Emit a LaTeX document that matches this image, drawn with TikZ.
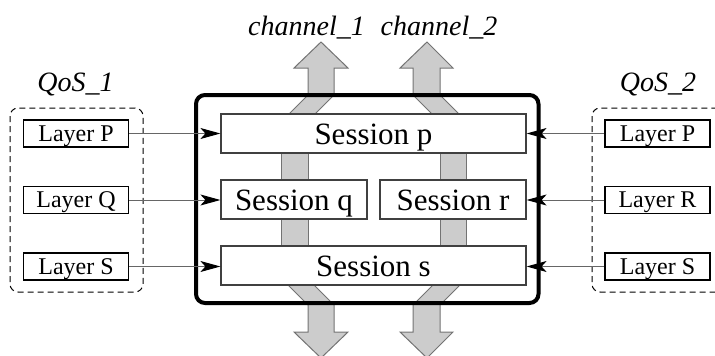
\documentclass[tikz,border=0pt]{standalone}
\usepackage{fontspec}
\setmainfont{Liberation Serif}
\usetikzlibrary{arrows.meta}
\begin{document}
\begin{tikzpicture}[x=1pt,y=-1pt,
  band/.style={fill=black!20, draw=black!55, line width=1pt, line join=miter},
  sess/.style={draw=black!75, fill=white, line width=1.2pt, font=\fontsize{31}{36}\selectfont, inner sep=0pt, minimum height=39pt, text height=22pt, text depth=0pt},
  layerbox/.style={draw=black, fill=white, line width=1.2pt, font=\fontsize{24}{28}\selectfont, inner sep=0pt, minimum width=105pt, minimum height=27pt, text height=18pt, text depth=3pt},
  lbl/.style={font=\fontsize{28}{32}\selectfont\itshape, anchor=base, inner sep=0pt},
  conn/.style={draw=black!60, line width=1pt, -{Stealth[length=20pt,width=11pt,inset=5pt,color=black]}},
  grp/.style={draw=black, dashed, dash pattern=on 6pt off 4pt, line width=1pt, rounded corners=8pt}]
\clip (0,0) rectangle (715,356);
\useasboundingbox (0,0) rectangle (715,356);
% gray channel bands
\draw[band] (321,42) -- (348,68) -- (334,68) -- (334,95) -- (309,120) -- (283,120) -- (308,95) -- (308,68) -- (294,68) -- cycle;
\draw[band] (427,42) -- (453,68) -- (440,68) -- (440,95) -- (465,120) -- (438,120) -- (413,95) -- (413,68) -- (400,68) -- cycle;
\draw[band] (283,280) -- (309,280) -- (334,305) -- (334,332) -- (348,332) -- (321,358) -- (294,332) -- (308,332) -- (308,305) -- cycle;
\draw[band] (465,280) -- (438,280) -- (413,305) -- (413,332) -- (400,332) -- (427,358) -- (453,332) -- (440,332) -- (440,305) -- cycle;
\draw[band] (281,145) rectangle (308,255);
\draw[band] (440,145) rectangle (466,255);
% main frame
\draw[line width=4pt, rounded corners=9pt] (196,95) rectangle (538.5,303);
% sessions
\node[sess, minimum width=305pt] (p) at (373.5,133.5) {Session p};
\node[sess, minimum width=146pt] (q) at (294,199.5) {Session q};
\node[sess, minimum width=146pt] (r) at (453,199.5) {Session r};
\node[sess, minimum width=305pt] (s) at (373.5,265.5) {Session s};
% labels
\node[lbl] (c1) at (306.5,35) {channel\_1};
\node[lbl] (c2) at (439,35) {channel\_2};
\node[lbl] (qos1) at (75.5,91) {QoS\_1};
\node[lbl] (qos2) at (658,91) {QoS\_2};
% groups
\draw[grp] (10,108) rectangle (143,292);
\draw[grp] (592,108) rectangle (745,292);
% layer boxes
\node[layerbox] (lP) at (76,133.5) {Layer P};
\node[layerbox] (lQ) at (76,200) {Layer Q};
\node[layerbox] (lS) at (76,266.5) {Layer S};
\node[layerbox] (rP) at (657.5,133.5) {Layer P};
\node[layerbox] (rR) at (657.5,200) {Layer R};
\node[layerbox] (rS) at (657.5,266.5) {Layer S};
% connectors
\draw[conn] (lP.east) -- (lP.east -| p.west);
\draw[conn] (lQ.east) -- (lQ.east -| q.west);
\draw[conn] (lS.east) -- (lS.east -| s.west);
\draw[conn] (rP.west) -- (rP.west -| p.east);
\draw[conn] (rR.west) -- (rR.west -| r.east);
\draw[conn] (rS.west) -- (rS.west -| s.east);
\end{tikzpicture}
\end{document}
